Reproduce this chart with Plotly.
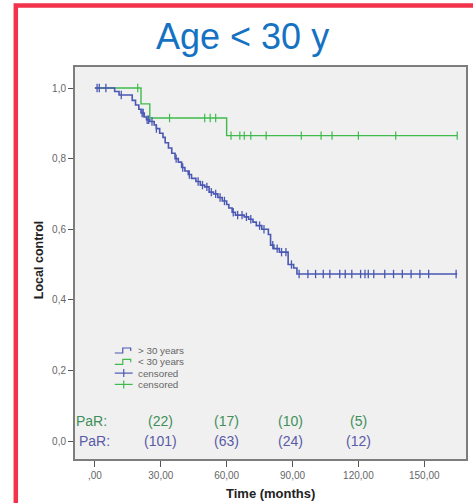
import numpy as np
import plotly.graph_objects as go

# ---------------- data ----------------
# > 30 years (blue) Kaplan-Meier step curve
blue_t = [0, 9, 11, 17, 18.5, 20, 21, 22.5, 23.5, 25, 27, 28, 29.5, 31, 32, 33.5, 35, 36.5,
          38, 39.5, 41, 42.5, 44, 46, 48, 50, 52, 54, 56, 58, 60, 61, 62.5, 64, 68, 70, 72,
          73.5, 76, 79, 80, 81.5, 84, 88, 90.5, 92, 165]
blue_s = [1.0, 0.99, 0.98, 0.965, 0.952, 0.94, 0.929, 0.918, 0.91, 0.905, 0.895, 0.885, 0.872,
          0.86, 0.845, 0.83, 0.815, 0.80, 0.79, 0.775, 0.765, 0.755, 0.744, 0.735, 0.725, 0.72,
          0.705, 0.70, 0.69, 0.68, 0.67, 0.66, 0.648, 0.64, 0.635, 0.628, 0.62, 0.61, 0.60,
          0.585, 0.555, 0.545, 0.535, 0.50, 0.49, 0.473, 0.473]
blue_cens = [1, 2, 5, 12, 21.5, 22, 23.8, 24.5, 26, 28, 37, 40, 43, 47, 49, 51, 53, 55, 57, 59,
             63, 65, 67, 69, 71, 75, 77, 81, 83, 85, 87, 89.5, 93, 97, 100.5, 104, 107, 111.5,
             114, 117, 121, 123, 124.5, 127, 132, 136, 140, 144, 148, 152, 164.5]

# < 30 years (green)
green_t = [0, 21, 25, 60, 165]
green_s = [1.0, 0.955, 0.915, 0.865, 0.865]
green_cens = [19.5, 34, 50, 52.5, 55, 62, 66, 68, 71, 78, 94, 103, 108, 120, 137, 165]

# patients at risk
par_times = [30, 60, 89, 120]
par_green = ["(22)", "(17)", "(10)", "(5)"]
par_blue = ["(101)", "(63)", "(24)", "(12)"]

xtick_vals = [0, 30, 60, 90, 120, 150]
xtick_text = [",00", "30,00", "60,00", "90,00", "120,00", "150,00"]
ytick_vals = [0, 0.2, 0.4, 0.6, 0.8, 1.0]
ytick_text = ["0,0", "0,2", "0,4", "0,6", "0,8", "1,0"]

legend_labels = ["> 30 years", "< 30 years", "censored", "censored"]

# ---------------- styling ----------------
BLUE = "#4a58b2"
GREEN = "#3fba4c"
PAR_GREEN = "#3f8f58"
PAR_BLUE = "#5a5aa6"
FONT = "Liberation Sans, Arial, sans-serif"

W, H = 473, 503
ML, MR, MT, MB = 75, 5, 67, 44
PW, PH = W - ML - MR, H - MT - MB


def px(xp):
    return (xp - ML) / PW


def py(yp):
    return (H - MB - yp) / PH


def step_value(ts, ss, t):
    idx = np.searchsorted(np.array(ts), t, side="right") - 1
    return np.array(ss)[np.clip(idx, 0, len(ss) - 1)]


fig = go.Figure()

fig.add_trace(go.Scatter(x=green_t, y=green_s, mode="lines", line=dict(color=GREEN, width=1.4, shape="hv"),
                         showlegend=False, hoverinfo="skip"))
fig.add_trace(go.Scatter(x=green_cens, y=step_value(green_t, green_s, green_cens), mode="markers",
                         marker=dict(symbol="line-ns", size=6, line=dict(color=GREEN, width=1.2)),
                         showlegend=False, hoverinfo="skip"))
fig.add_trace(go.Scatter(x=blue_t, y=blue_s, mode="lines", line=dict(color=BLUE, width=1.6, shape="hv"),
                         showlegend=False, hoverinfo="skip"))
fig.add_trace(go.Scatter(x=blue_cens, y=step_value(blue_t, blue_s, blue_cens), mode="markers",
                         marker=dict(symbol="line-ns", size=6, line=dict(color=BLUE, width=1.3)),
                         showlegend=False, hoverinfo="skip"))

ann = []
# title
ann.append(dict(text="Age < 30 y", x=px(243), y=py(36), xref="paper", yref="paper", showarrow=False,
                font=dict(family=FONT, size=36, color="#1572c2"), xanchor="center", yanchor="middle"))
# axis titles
ann.append(dict(text="<b>Local control</b>", x=px(39), y=py(260), xref="paper", yref="paper",
                showarrow=False, textangle=-90, font=dict(family=FONT, size=12.5, color="#222"),
                xanchor="center", yanchor="middle"))
ann.append(dict(text="<b>Time (months)</b>", x=px(271), y=py(493), xref="paper", yref="paper",
                showarrow=False, font=dict(family=FONT, size=13, color="#222"),
                xanchor="center", yanchor="middle"))
# PaR rows
ann.append(dict(text="PaR:", x=-1.5, y=0.057, xref="x", yref="y", showarrow=False,
                font=dict(family=FONT, size=14, color=PAR_GREEN), xanchor="center", yanchor="middle"))
ann.append(dict(text="PaR:", x=0, y=0.0, xref="x", yref="y", showarrow=False,
                font=dict(family=FONT, size=14, color=PAR_BLUE), xanchor="center", yanchor="middle"))
for t, g, b in zip(par_times, par_green, par_blue):
    ann.append(dict(text=g, x=t, y=0.057, xref="x", yref="y", showarrow=False,
                    font=dict(family=FONT, size=14, color=PAR_GREEN), xanchor="center", yanchor="middle"))
    ann.append(dict(text=b, x=t, y=0.0, xref="x", yref="y", showarrow=False,
                    font=dict(family=FONT, size=14, color=PAR_BLUE), xanchor="center", yanchor="middle"))

# manual legend
shapes = []
leg_colors = [BLUE, GREEN, BLUE, GREEN]
for i, (lab, col) in enumerate(zip(legend_labels, leg_colors)):
    yc = 350.5 + i * 11.3
    ann.append(dict(text=lab, x=px(136), y=py(yc), xref="paper", yref="paper", showarrow=False,
                    font=dict(family=FONT, size=9.8, color="#666"), xanchor="left", yanchor="middle"))
    if i < 2:
        path = (f"M {px(115)},{py(yc+2.5)} L {px(123)},{py(yc+2.5)} L {px(123)},{py(yc-2.5)} "
                f"L {px(131)},{py(yc-2.5)} L {px(131)},{py(yc+0.5)}")
        shapes.append(dict(type="path", path=path, xref="paper", yref="paper",
                           line=dict(color=col, width=1.2)))
    else:
        shapes.append(dict(type="line", x0=px(115), x1=px(133), y0=py(yc), y1=py(yc),
                           xref="paper", yref="paper", line=dict(color=col, width=1.2)))
        shapes.append(dict(type="line", x0=px(124), x1=px(124), y0=py(yc - 4), y1=py(yc + 4),
                           xref="paper", yref="paper", line=dict(color=col, width=1.2)))

# red frame
shapes.append(dict(type="rect", x0=px(15.5), x1=px(485), y0=py(5.5), y1=py(515), xref="paper",
                   yref="paper", line=dict(color="#f2334b", width=4.5), fillcolor="rgba(0,0,0,0)",
                   layer="above"))

fig.update_layout(
    width=W, height=H,
    margin=dict(l=ML, r=MR, t=MT, b=MB, pad=0),
    paper_bgcolor="white", plot_bgcolor="#f0f0f0",
    showlegend=False,
    annotations=ann, shapes=shapes,
    font=dict(family=FONT),
    xaxis=dict(range=[-9.06, 169.0], tickvals=xtick_vals, ticktext=xtick_text, showgrid=False,
               zeroline=False, showline=True, linecolor="#7d7d7d", linewidth=2, mirror=True,
               ticks="outside", ticklen=6, tickcolor="#555", tickwidth=1.3,
               tickfont=dict(family=FONT, size=10, color="#666")),
    yaxis=dict(range=[-0.051, 1.0595], tickvals=ytick_vals, ticktext=ytick_text, showgrid=False,
               zeroline=False, showline=True, linecolor="#7d7d7d", linewidth=2, mirror=True,
               ticks="outside", ticklen=5, tickcolor="#555", tickwidth=1.3,
               tickfont=dict(family=FONT, size=10, color="#666")),
)

fig.write_html("out.html")
